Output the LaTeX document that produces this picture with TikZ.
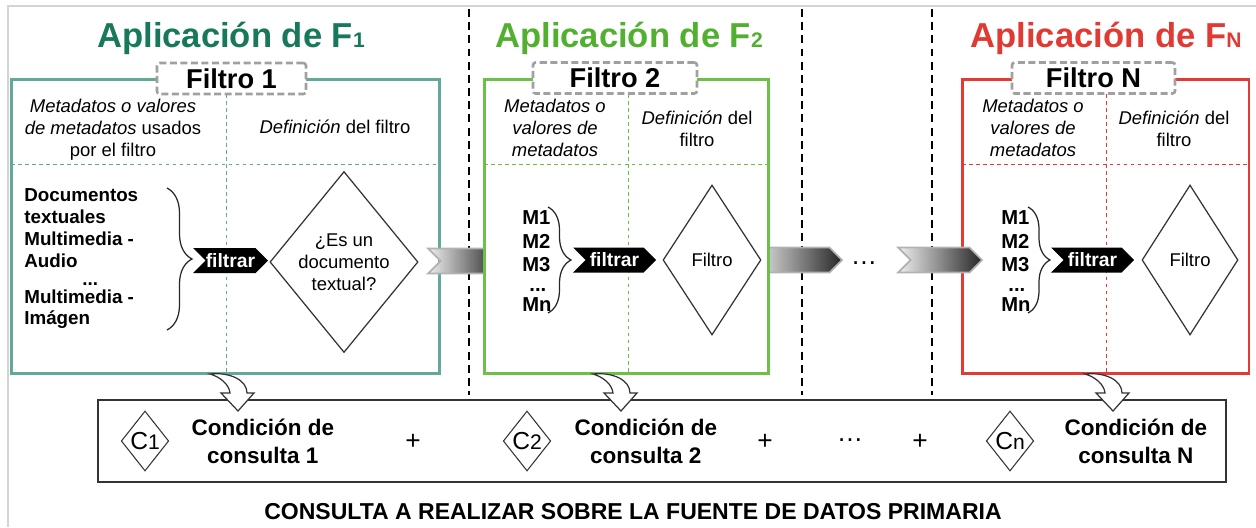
\documentclass[tikz,border=0pt]{standalone}
\usepackage{fontspec}
\setmainfont{Liberation Sans}
\usetikzlibrary{shapes.geometric,shapes.symbols,positioning,calc,decorations.pathreplacing}
\definecolor{tealT}{HTML}{17785C}
\definecolor{tealB}{HTML}{62A99C}
\definecolor{greenT}{HTML}{52B031}
\definecolor{greenB}{HTML}{6CC04A}
\definecolor{redT}{HTML}{E03A33}
\definecolor{redB}{HTML}{E23B35}
\definecolor{tagG}{HTML}{A0A0A0}
\definecolor{frameG}{HTML}{D4D4D4}
\tikzset{
    apptitle/.style={font=\bfseries\fontsize{19.7}{22}\selectfont, inner sep=0pt},
    filterbox/.style={rectangle, draw, fill=white, line width=1.7pt, minimum height=5.9cm},
    tag/.style={rectangle, draw=tagG, dash pattern=on 4pt off 2pt, fill=white, line width=1.5pt, rounded corners=1.5pt, minimum height=0.62cm, font=\bfseries\fontsize{15.5}{18}\selectfont, inner sep=0pt},
    colhead/.style={align=center, font=\fontsize{10.5}{12.5}\selectfont, inner sep=0pt},
    items/.style={align=left, font=\bfseries\fontsize{10.7}{12.5}\selectfont, inner sep=0pt},
    mlist/.style={align=left, font=\bfseries\fontsize{11.5}{13.6}\selectfont, inner sep=0pt},
    filtrar/.style={signal, signal from=west, signal to=east, fill=black, text=white, font=\bfseries\fontsize{11}{12}\selectfont, minimum height=0.5cm, inner sep=0pt},
    pass/.style={signal, signal from=west, signal to=east, draw=gray!60, line width=1pt, left color=gray!12, right color=black!85, minimum height=0.5cm},
    decision/.style={diamond, draw=black!80, line width=0.7pt, fill=white, align=center, inner sep=0pt, font=\fontsize{10.5}{12.5}\selectfont},
    cond/.style={diamond, draw=black!80, line width=0.6pt, minimum width=0.95cm, minimum height=1.2cm, inner sep=0pt, font=\fontsize{14}{15}\selectfont},
    condtext/.style={align=center, font=\bfseries\fontsize{12.8}{16}\selectfont, inner sep=0pt},
    op/.style={font=\fontsize{15}{16}\selectfont, inner sep=0pt},
    divider/.style={draw=black, line width=1.3pt, dash pattern=on 4.5pt off 3pt},
    inner/.style={line width=0.5pt, dash pattern=on 2pt off 2pt},
    curly/.style={decorate, decoration={brace, amplitude=#1}, draw=black!85, line width=0.7pt},
    bend/.pic={\draw[fill=white, draw=black!80, line width=0.7pt] (0,0) .. controls (20,-2) and (37,6) .. (37,19) -- (44,19) -- (28,37) -- (11,19) -- (20,19) .. controls (19,10) and (10,3) .. cycle;}
}
\newcommand{\sm}[1]{{\fontsize{12}{12}\selectfont #1}}

\begin{document}
\begin{tikzpicture}[x=0.02cm, y=-0.02cm]
    \useasboundingbox (0,0) rectangle (1256,527);
    \draw[frameG, line width=1.7pt] (8,527) -- (8,6) -- (1256,6);

    % separators
    \foreach \sx in {469,802,932}
        \draw[divider] (\sx,9) -- (\sx,395);

    \node[apptitle, text=tealT] (t1) at (231,38) {Aplicación de F\sm{1}};
    \node[apptitle, text=greenT] (t2) at (629,38) {Aplicación de F\sm{2}};
    \node[apptitle, text=redT] (tn) at (1106,38) {Aplicación de F\sm{N}};

    % filtro 1
    \node[filterbox, draw=tealB, minimum width=8.58cm] (box1) at (225.5,226.5) {};
    \draw[inner, tealB] (11,164) -- (440,164);
    \draw[inner, tealB] (226,94) -- (226,374);
    \node[tag, minimum width=2.98cm] (tag1) at (231.5,78.5) {Filtro 1};
    \node[colhead] (meta1) at (113,130) {\textit{Metadatos o valores}\\\textit{de metadatos} usados\\por el filtro};
    \node[colhead] (def1) at (335,127) {\textit{Definición} del filtro};
    \node[items, anchor=west] (docs) at (24,259) {Documentos\\textuales\\Multimedia -\\Audio\\[-2.5pt]\hspace*{33pt}...\\[-2.5pt]Multimedia -\\Imágen};
    \draw[curly=0.5cm] (167,188) -- (167,330);
    \node[filtrar, minimum width=1.5cm] (f1) at (230.5,260.5) {filtrar};
    \node[decision, minimum width=2.96cm, minimum height=3.62cm] (d1) at (344,262) {¿Es un\\documento\\textual?};

    \node[pass, minimum width=1.44cm] (a1) at (464,261) {};
    \node[pass, minimum width=1.84cm] (a2) at (796,260) {};

    % filtro 2
    \node[filterbox, draw=greenB, minimum width=5.7cm] (box2) at (626.5,226.5) {};
    \draw[inner, greenB] (484,164) -- (769,164);
    \draw[inner, greenB] (628,94) -- (628,374);
    \node[tag, minimum width=3.28cm] (tag2) at (615,78) {Filtro 2};
    \node[colhead] (meta2) at (555,128) {\textit{Metadatos o}\\\textit{valores de}\\\textit{metadatos}};
    \node[colhead] (def2) at (697,129) {\textit{Definición} del\\filtro};
    \node[mlist, anchor=west] (m2) at (522,261) {M1\\M2\\M3\\[-2.3pt]\hspace*{4pt}...\\[-2.3pt]Mn};
    \draw[curly=0.46cm] (548,207) -- (548,313);
    \node[filtrar, minimum width=1.66cm] (f2) at (614.5,260) {filtrar};
    \node[decision, minimum width=1.96cm, minimum height=3cm] (d2) at (712,260) {Filtro};

    \node[op] (gap) at (864,263) {\dots};

    % filtro N
    \node[filterbox, draw=redB, minimum width=5.74cm] (boxn) at (1105.5,226.5) {};
    \draw[inner, redB] (962,164) -- (1249,164);
    \draw[inner, redB] (1106,94) -- (1106,374);
    \node[tag, minimum width=3.26cm] (tagn) at (1093.5,78) {Filtro N};
    \node[colhead] (metan) at (1033,128) {\textit{Metadatos o}\\\textit{valores de}\\\textit{metadatos}};
    \node[colhead] (defn) at (1174,129) {\textit{Definición} del\\filtro};
    \node[mlist, anchor=west] (mn) at (1001,261) {M1\\M2\\M3\\[-2.3pt]\hspace*{4pt}...\\[-2.3pt]Mn};
    \draw[curly=0.44cm] (1028,207) -- (1028,313);
    \node[filtrar, minimum width=1.66cm] (fn) at (1092.5,260) {filtrar};
    \node[decision, minimum width=1.92cm, minimum height=3cm] (dn) at (1190,260) {Filtro};

    \node[pass, minimum width=1.68cm] (a3) at (940,260) {};

    % consulta
    \node[draw=black!80, line width=0.7pt, minimum width=22.56cm, minimum height=1.64cm] (query) at (662,441) {};
    \node[cond] (c1) at (145,441) {C\sm{1}};
    \node[condtext, right=0.44cm of c1] (q1) {Condición de\\consulta 1};
    \node[op] (plus1) at (413,442) {+};
    \node[cond] (c2) at (527,441) {C\sm{2}};
    \node[condtext, right=0.46cm of c2] (q2) {Condición de\\consulta 2};
    \node[op] (plus2) at (765,442) {+};
    \node[op] (more) at (850,440) {\dots};
    \node[op] (plus3) at (920,442) {+};
    \node[cond] (cn) at (1010,441) {C\sm{n}};
    \node[condtext, right=0.6cm of cn] (qn) {Condición de\\consulta N};

    \pic at (210,374) {bend};
    \pic at (593,374) {bend};
    \pic at (1085,374) {bend};

    \node[font=\bfseries\fontsize{13.1}{15}\selectfont] (bottom) at (633,512) {CONSULTA A REALIZAR SOBRE LA FUENTE DE DATOS PRIMARIA};
\end{tikzpicture}
\end{document}
